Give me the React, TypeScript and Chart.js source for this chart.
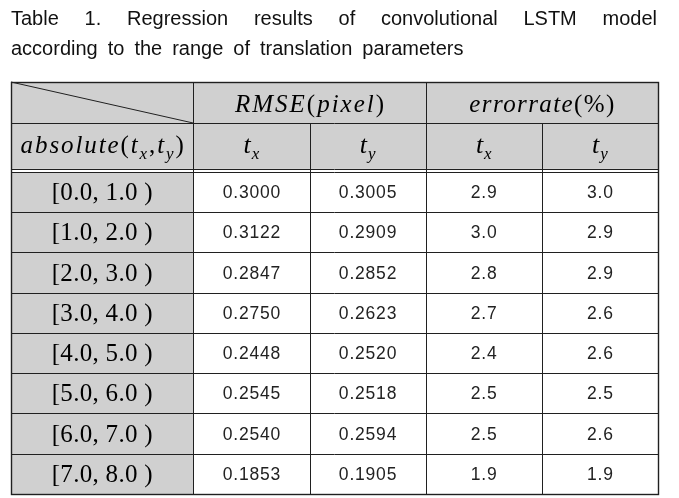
import React, { useEffect, useRef } from "react";
import { Chart, registerables } from "chart.js";

Chart.register(...registerables);

// ---------- data ----------
const TITLE_LINE_1 = "Table 1. Regression results of convolutional LSTM model";
const TITLE_LINE_2 = "according to the range of translation parameters";

const ROW_HEADER = "absolute";
const GROUP_NAMES = ["RMSE", "errorrate"];
const GROUP_UNITS = ["pixel", "%"];
const AXIS_SUBS = ["x", "y"];

const RANGE_LABELS = [
  "[0.0, 1.0 )",
  "[1.0, 2.0 )",
  "[2.0, 3.0 )",
  "[3.0, 4.0 )",
  "[4.0, 5.0 )",
  "[5.0, 6.0 )",
  "[6.0, 7.0 )",
  "[7.0, 8.0 )",
];
const RMSE_TX = ["0.3000", "0.3122", "0.2847", "0.2750", "0.2448", "0.2545", "0.2540", "0.1853"];
const RMSE_TY = ["0.3005", "0.2909", "0.2852", "0.2623", "0.2520", "0.2518", "0.2594", "0.1905"];
const ERR_TX = ["2.9", "3.0", "2.8", "2.7", "2.4", "2.5", "2.5", "1.9"];
const ERR_TY = ["3.0", "2.9", "2.9", "2.6", "2.6", "2.5", "2.6", "1.9"];

// ---------- layout (not data) ----------
const COL_UNITS = [1.57, 1, 1, 1, 1];
const HEADER_UNITS = [1.02, 1.14];
const GAP_UNITS = 0.075;
const ROW_UNIT = 1;

const GRAY = "#d0d0d0";
const LINE = "#202020";
const SERIF = "'Liberation Serif', 'DejaVu Serif', serif";
const SANS = "'Liberation Sans', 'DejaVu Sans', sans-serif";

type Seg = { t: string; font: string; dy?: number };

function drawRich(ctx: CanvasRenderingContext2D, segs: Seg[], cx: number, base: number, spacing: number) {
  ctx.save();
  (ctx as any).letterSpacing = spacing + "px";
  let total = 0;
  const widths = segs.map((s) => {
    ctx.font = s.font;
    const w = ctx.measureText(s.t).width;
    total += w;
    return w;
  });
  total -= spacing;
  let x = cx - total / 2;
  ctx.textAlign = "left";
  ctx.textBaseline = "alphabetic";
  segs.forEach((s, i) => {
    ctx.font = s.font;
    ctx.fillText(s.t, x, base + (s.dy || 0));
    x += widths[i];
  });
  ctx.restore();
}

const IT = `italic 25px ${SERIF}`;
const UP = `25px ${SERIF}`;
const SUB = `italic 17px ${SERIF}`;
const IT_T = `italic 26px ${SERIF}`;

const tSub = (a: string, font = IT): Seg[] => [
  { t: "t", font },
  { t: a, font: SUB, dy: 6 },
];

const tablePlugin = {
  id: "tablePlugin",
  afterDraw(chart: any) {
    const ctx: CanvasRenderingContext2D = chart.ctx;
    const xs = chart.scales.x;
    const ys = chart.scales.y;
    const X = (v: number) => xs.getPixelForValue(v);
    const Y = (v: number) => ys.getPixelForValue(v);

    const colEdges = [0];
    COL_UNITS.forEach((u) => colEdges.push(colEdges[colEdges.length - 1] + u));
    const h1 = HEADER_UNITS[0];
    const h2 = h1 + HEADER_UNITS[1];
    const d0 = h2 + GAP_UNITS;
    const rowEdges = [d0];
    RANGE_LABELS.forEach(() => rowEdges.push(rowEdges[rowEdges.length - 1] + ROW_UNIT));
    const xL = X(0);
    const xR = X(colEdges[colEdges.length - 1]);
    const yT = Y(0);
    const yB = Y(rowEdges[rowEdges.length - 1]);

    ctx.save();
    // backgrounds
    ctx.fillStyle = GRAY;
    ctx.fillRect(xL, yT, xR - xL, Y(h2) - yT);
    ctx.fillStyle = "#ffffff";
    ctx.fillRect(xL, Y(h2), xR - xL, Y(d0) - Y(h2));
    ctx.fillStyle = GRAY;
    ctx.fillRect(xL, Y(d0), X(colEdges[1]) - xL, yB - Y(d0));
    ctx.fillStyle = "#ffffff";
    ctx.fillRect(X(colEdges[1]), Y(d0), xR - X(colEdges[1]), yB - Y(d0));

    // lines
    ctx.strokeStyle = LINE;
    ctx.lineWidth = 1;
    const line = (x1: number, y1: number, x2: number, y2: number) => {
      ctx.beginPath();
      ctx.moveTo(x1, y1);
      ctx.lineTo(x2, y2);
      ctx.stroke();
    };
    const r = (v: number) => Math.round(v) + 0.5;
    line(xL, r(Y(h1)), xR, r(Y(h1)));
    line(xL, r(Y(h2)), xR, r(Y(h2)));
    line(xL, r(Y(d0)), xR, r(Y(d0)));
    for (let i = 1; i < rowEdges.length - 1; i++) {
      line(xL, r(Y(rowEdges[i])), xR, r(Y(rowEdges[i])));
    }
    line(r(X(colEdges[1])), yT, r(X(colEdges[1])), yB);
    line(r(X(colEdges[3])), yT, r(X(colEdges[3])), yB);
    line(r(X(colEdges[2])), Y(h1), r(X(colEdges[2])), yB);
    line(r(X(colEdges[4])), Y(h1), r(X(colEdges[4])), yB);
    line(xL, yT, X(colEdges[1]), Y(h1));
    ctx.lineWidth = 1.4;
    ctx.strokeRect(r(xL), r(yT), Math.round(xR - xL), Math.round(yB - yT));

    // header texts
    ctx.fillStyle = "#000";
    const mid = (a: number, b: number) => (X(a) + X(b)) / 2;
    const h1Base = (Y(0) + Y(h1)) / 2 + 9;
    GROUP_NAMES.forEach((g, gi) => {
      const c0 = colEdges[1 + gi * 2];
      const c1 = colEdges[3 + gi * 2];
      const unitFont = GROUP_UNITS[gi] === "%" ? UP : IT;
      drawRich(
        ctx,
        [
          { t: g, font: IT },
          { t: "(", font: UP },
          { t: GROUP_UNITS[gi], font: unitFont },
          { t: ")", font: UP },
        ],
        mid(c0, c1),
        h1Base,
        gi === 0 ? 2 : 1.4
      );
    });
    const h2Base = (Y(h1) + Y(h2)) / 2 + 7;
    drawRich(
      ctx,
      [
        { t: ROW_HEADER, font: IT },
        { t: "(", font: UP },
        ...tSub(AXIS_SUBS[0]),
        { t: ",", font: UP },
        ...tSub(AXIS_SUBS[1]),
        { t: ")", font: UP },
      ],
      mid(colEdges[0], colEdges[1]),
      h2Base,
      1.9
    );
    for (let c = 0; c < 4; c++) {
      drawRich(ctx, tSub(AXIS_SUBS[c % 2], IT_T), mid(colEdges[c + 1], colEdges[c + 2]), h2Base, 1);
    }

    // data rows
    const cols = [RMSE_TX, RMSE_TY, ERR_TX, ERR_TY];
    RANGE_LABELS.forEach((lab, i) => {
      const cy = (Y(rowEdges[i]) + Y(rowEdges[i + 1])) / 2;
      ctx.fillStyle = "#000";
      drawRich(ctx, [{ t: lab, font: `25px ${SERIF}` }], mid(colEdges[0], colEdges[1]), cy + 8, 0.3);
      ctx.fillStyle = "#222";
      cols.forEach((arr, c) => {
        drawRich(ctx, [{ t: arr[i], font: `17.5px ${SANS}` }], mid(colEdges[c + 1], colEdges[c + 2]), cy + 6, 0.8);
      });
    });

    // title
    ctx.fillStyle = "#111";
    ctx.font = `20px ${SANS}`;
    ctx.textBaseline = "alphabetic";
    ctx.textAlign = "left";
    const words1 = TITLE_LINE_1.split(" ");
    const w1 = words1.map((w) => ctx.measureText(w).width);
    const sum1 = w1.reduce((a, b) => a + b, 0);
    const gap1 = (xR - 1 - xL - sum1) / (words1.length - 1);
    let x = xL;
    words1.forEach((w, i) => {
      ctx.fillText(w, x, 25);
      x += w1[i] + gap1;
    });
    const words2 = TITLE_LINE_2.split(" ");
    x = xL;
    words2.forEach((w) => {
      ctx.fillText(w, x, 55);
      x += ctx.measureText(w).width + 10;
    });
    ctx.restore();
  },
};

const whiteBg = {
  id: "whiteBg",
  beforeDraw(chart: any) {
    const ctx = chart.ctx;
    ctx.save();
    ctx.fillStyle = "#fff";
    ctx.fillRect(0, 0, chart.width, chart.height);
    ctx.restore();
  },
};

export default function App() {
  const ref = useRef<HTMLCanvasElement | null>(null);
  useEffect(() => {
    if (!ref.current) return;
    const xMax = COL_UNITS.reduce((a, b) => a + b, 0);
    const yMax = HEADER_UNITS[0] + HEADER_UNITS[1] + GAP_UNITS + RANGE_LABELS.length * ROW_UNIT;
    const chart = new Chart(ref.current, {
      type: "scatter",
      data: { datasets: [] },
      options: {
        animation: false,
        responsive: false,
        maintainAspectRatio: false,
        events: [],
        layout: { padding: { left: 11, top: 82, right: 21, bottom: 4 } },
        scales: {
          x: { type: "linear", display: false, min: 0, max: xMax },
          y: { type: "linear", display: false, min: 0, max: yMax, reverse: true },
        },
        plugins: { legend: { display: false }, tooltip: { enabled: false }, title: { display: false } },
      },
      plugins: [whiteBg, tablePlugin],
    });
    return () => chart.destroy();
  }, []);
  return (
    <div style={{ position: "fixed", left: 0, top: 0, width: 679, height: 498, background: "#fff" }}>
      <canvas ref={ref} width={679} height={498} style={{ width: 679, height: 498, display: "block" }} />
    </div>
  );
}
